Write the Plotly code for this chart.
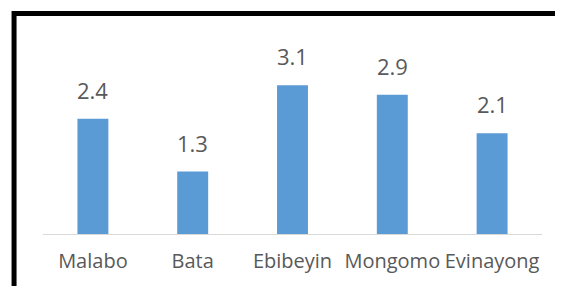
import plotly.graph_objects as go

categories = ["Malabo", "Bata", "Ebibeyin", "Mongomo", "Evinayong"]
values = [2.4, 1.3, 3.1, 2.9, 2.1]
value_labels = ["2.4", "1.3", "3.1", "2.9", "2.1"]

BAR = "#5B9BD5"
TXT = "#595959"
FONT = "Open Sans"

fig = go.Figure()
fig.add_trace(go.Bar(x=categories, y=values, marker=dict(color=BAR, line=dict(width=0)),
                     width=0.31, hoverinfo="skip"))

for c, v, t in zip(categories, values, value_labels):
    fig.add_annotation(x=c, y=v, text=t, showarrow=False, yanchor="bottom",
                       yshift=12, font=dict(family=FONT, size=22, color=TXT))

# outer frame (partially visible, black)
fig.add_shape(type="path", xref="paper", yref="paper",
              path="M -0.058,-0.3 L -0.058,1.149 L 1.1,1.149",
              line=dict(color="black", width=5))

fig.update_layout(
    width=555, height=278,
    margin=dict(l=35, r=21, t=34, b=50),
    paper_bgcolor="white", plot_bgcolor="white",
    showlegend=False,
    bargap=0.69,
    xaxis=dict(showline=True, linecolor="#D9D9D9", linewidth=1, showgrid=False,
               ticks="", tickfont=dict(family=FONT, size=20, color=TXT),
               ticklabelstandoff=9),
    yaxis=dict(range=[0, 4], visible=False, showgrid=False, zeroline=False),
)

fig.write_html("out.html")
